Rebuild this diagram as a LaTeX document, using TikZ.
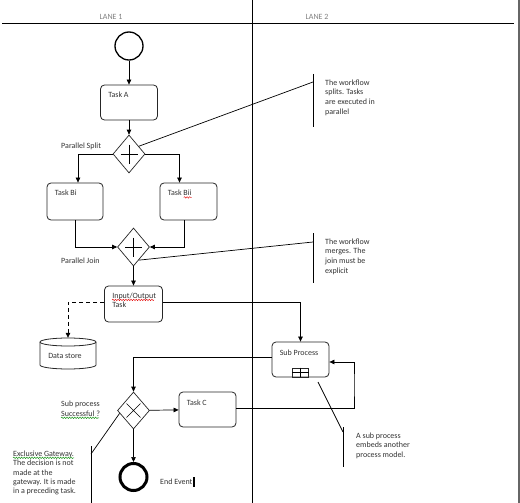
\documentclass[tikz,border=0pt]{standalone}
\usepackage{fontspec}
\setmainfont{Carlito}
\usetikzlibrary{shapes.geometric,arrows.meta,calc,decorations.pathmorphing}
\begin{document}
\begin{tikzpicture}[x=1pt,y=-1pt,
  txt/.style={font=\fontsize{8}{9.6}\selectfont, text=black!80, inner sep=0pt, align=left},
  lanelbl/.style={font=\fontsize{8}{9.6}\selectfont, text=black!50, inner sep=0pt},
  task/.style={draw=black!85, line width=0.8pt, rounded corners=4pt, minimum width=57pt, minimum height=35pt, inner sep=0pt},
  gw/.style={draw=black!85, line width=0.7pt, diamond, minimum width=32pt, minimum height=38pt, inner sep=0pt},
  flow/.style={draw=black, line width=0.7pt, -{Triangle[length=5pt,width=4.5pt]}},
  assoc/.style={draw=black, line width=0.7pt},
  gwmark/.style={line width=0.7pt},
  squig/.style={decorate, decoration={snake, amplitude=0.8pt, segment length=2.6pt}, line width=0.4pt}
]
\useasboundingbox (0,0) rectangle (520,503);
\fill[white] (0,0) rectangle (520,503);

% lanes
\draw[line width=0.8pt] (2,23) -- (514,23);
\draw[line width=0.8pt] (252,0) -- (252,503);
\draw[black!60, line width=1.5pt] (519,0) -- (519,503);
\node[lanelbl] (lane1) at (111,17) {LANE 1};
\node[lanelbl] (lane2) at (317,17) {LANE 2};

% nodes
\node[circle, draw=black, line width=1.3pt, minimum size=28pt, inner sep=0pt] (start) at (129,46) {};
\node[task] (taskA) at (129,102.5) {};
\node[gw] (split) at (129,154) {};
\node[task, minimum width=56pt, minimum height=37pt] (taskBi) at (75,201.5) {};
\node[task, minimum width=57pt, minimum height=37pt] (taskBii) at (188.5,201.5) {};
\node[gw] (join) at (133.5,247) {};
\node[task, minimum width=58pt, minimum height=36pt] (io) at (133.5,304) {};
\node[inner sep=0pt, minimum width=56pt, minimum height=31pt] (ds) at (68,353.5) {};
\node[task] (subp) at (300.5,359.5) {};
\node[gw, minimum height=37pt] (xgw) at (133.5,410.5) {};
\node[task] (taskC) at (207.5,409.5) {};
\node[circle, draw=black, line width=3pt, minimum size=27pt, inner sep=0pt] (end) at (133.5,477) {};

% gateway markers
\draw[gwmark] ($(split.center)+(-8.5,0)$) -- ($(split.center)+(8.5,0)$)
            ($(split.center)+(0,-9.5)$) -- ($(split.center)+(0,9.5)$);
\draw[gwmark] ($(join.center)+(-8.5,0)$) -- ($(join.center)+(8.5,0)$)
            ($(join.center)+(0,-9.5)$) -- ($(join.center)+(0,9.5)$);
\draw[gwmark] ($(xgw.center)+(-7,-7)$) -- ($(xgw.center)+(7,7)$)
            ($(xgw.center)+(7,-7)$) -- ($(xgw.center)+(-7,7)$);

% data store cylinder
\begin{scope}[shift={(ds.center)}, line width=0.8pt, draw=black!85]
  \draw (0,-11.5) ellipse [x radius=28, y radius=4];
  \draw (-28,-11.5) -- (-28,11.5) arc[start angle=180, end angle=0, x radius=28, y radius=4] -- (28,-11.5);
\end{scope}

% sub-process marker
\node[draw=black!85, line width=0.7pt, minimum width=16pt, minimum height=9pt, inner sep=0pt, anchor=south] (mk) at (subp.south) {};
\draw[gwmark] (mk.north) -- (mk.south);
\draw[gwmark] (mk.west) -- (mk.east);

% labels inside tasks
\node[txt, anchor=north west] (lA) at ($(taskA.north west)+(8,7)$) {Task A};
\node[txt, anchor=north west] (lBi) at ($(taskBi.north west)+(8,7.5)$) {Task Bi};
\node[txt, anchor=north west] (lBii) at ($(taskBii.north west)+(8,7.5)$) {Task Bii};
\node[txt, anchor=north west] (lio) at ($(io.north west)+(8,7)$) {Input/Output\\Task};
\node[txt, anchor=north west] (lsub) at ($(subp.north west)+(8,8)$) {Sub Process};
\node[txt, anchor=north west] (lC) at ($(taskC.north west)+(8,8)$) {Task C};
\node[txt] (lds) at ($(ds.center)+(-3,2.5)$) {Data store};

% outside labels
\node[txt, anchor=west] (lsplit) at (61,146) {Parallel Split};
\node[txt, anchor=west] (ljoin) at (61,261) {Parallel Join};
\node[txt, anchor=north west] (lsucc) at (61,401) {Sub process\\Successful ?};
\node[txt, anchor=west] (lend) at (160,482) {End Event};
\fill[black] ($(lend.east)+(0.4,-5.5)$) rectangle ++(2.3,10.5);

% spell-check squiggles
\draw[squig, red!90!black] ($(lio.north west)+(0,7.3)$) -- ++(42,0);
\draw[squig, red!90!black] ($(lBii.north east)+(-8,7.3)$) -- ++(8,0);
\draw[squig, green!55!black] ($(lsucc.north west)+(0,16.8)$) -- ++(38,0);

% flows
\draw[flow] (start) -- (taskA);
\draw[flow] (taskA) -- (split);
\draw[flow] (split.west) -| ([xshift=3pt]taskBi.north);
\draw[flow] (split.east) -| ([xshift=-9pt]taskBii.north);
\draw[flow] (taskBi.south) |- (join.west);
\draw[flow] ([xshift=-4.5pt]taskBii.south) |- (join.east);
\draw[flow] (join) -- (io);
\draw[flow, dash pattern=on 4pt off 3pt] ([yshift=2pt]io.west) -| (ds.north);
\draw[flow] ([yshift=2pt]io.east) -| (subp.north);
\draw[flow] ([yshift=2.5pt]subp.west) -| (xgw.north);
\draw[flow] (xgw) -- (taskC);
\coordinate (loop) at (354,385);
\draw[flow] ([yshift=1.5pt]taskC.east) -| (loop) |- ([yshift=-2.5pt]subp.east);
\draw[flow] (xgw) -- (end);

% annotations
\coordinate (a1t) at (313,74);
\coordinate (a1b) at (313,127);
\coordinate (a1m) at (313,82);
\draw[assoc] (a1t) -- (a1b);
\draw[assoc] ($(split.north)!0.6!(split.east)$) -- (a1m);
\node[txt, anchor=north west, font=\fontsize{8}{9.7}\selectfont] (t1) at (325,79.5) {The workflow\\splits. Tasks\\are executed in\\parallel};

\coordinate (a2t) at (313,233);
\coordinate (a2b) at (313,283);
\coordinate (a2m) at (313,242);
\draw[assoc] (a2t) -- (a2b);
\draw[assoc] ($(join.east)!0.68!(join.south)$) -- (a2m);
\node[txt, anchor=north west, font=\fontsize{8}{9.7}\selectfont] (t2) at (325,238.5) {The workflow\\merges. The\\join must be\\explicit};

\coordinate (a3t) at (343,427);
\coordinate (a3b) at (343,467);
\coordinate (a3s) at (318,382);
\coordinate (a3m) at (343,432);
\draw[assoc] (a3t) -- (a3b);
\draw[assoc] (a3s) -- (a3m);
\node[txt, anchor=north west, font=\fontsize{8}{9.6}\selectfont] (t3) at (356,432.5) {A sub process\\embeds another\\process model.};

\coordinate (a4t) at (91,446);
\coordinate (a4b) at (91,503);
\coordinate (a4m) at (91,454);
\draw[assoc] (a4t) -- (a4b);
\draw[assoc] ($(xgw.west)!0.15!(xgw.south)$) -- (a4m);
\node[txt, anchor=north west, font=\fontsize{8}{9.2}\selectfont] (t4) at (13,451) {Exclusive Gateway.\\The decision is not\\made at the\\gateway. It is made\\in a preceding task.};
\draw[squig, green!55!black] ($(t4.north west)+(0,6.8)$) -- ++(61,0);
\end{tikzpicture}
\end{document}
